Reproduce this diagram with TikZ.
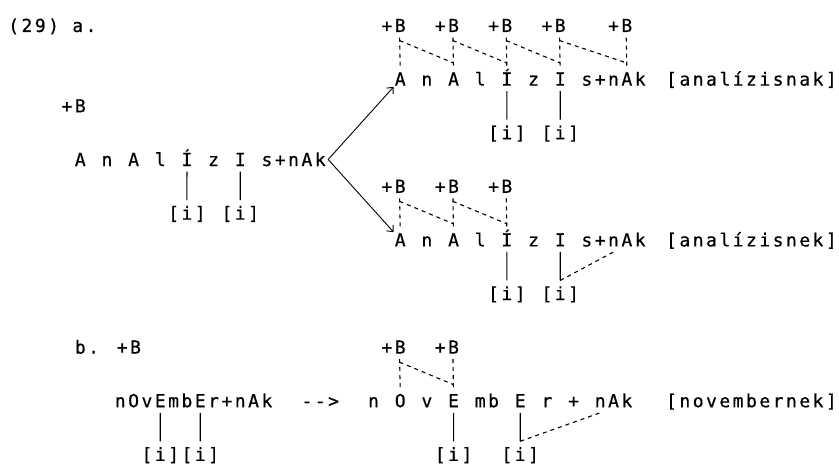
\documentclass[tikz,border=0pt]{standalone}
\usepackage{fontspec}
\usetikzlibrary{arrows.meta}
\newfontfamily\typewr[LetterSpace=13.8,FakeBold=0.6]{DejaVu Sans Mono}

\begin{document}
\begin{tikzpicture}[x=13.33pt,y=-26.8pt,>={Straight Barb[length=5pt,width=9pt]},line width=1.1pt,
	seg/.style={font=\typewr\fontsize{18}{20}\selectfont,inner sep=0pt,
		text height=13pt,text depth=0pt,anchor=west},
	assoc/.style={dash pattern=on 4pt off 4pt,shorten <=5pt,shorten >=5pt},
	spread/.style={dash pattern=on 4pt off 4pt},
	link/.style={shorten <=5pt,shorten >=6pt}]

	\useasboundingbox (-5.576,-0.951) rectangle (57.36,16.436);

	% (29) a.
	\node[seg] (ex) at (-5,0) {(29) a.};

	% left form
	\node[seg] (sb) at (-1,3) {+B};
	\node[seg] (sa1) at (0,5) {A};
	\node[seg] (sn) at (2,5) {n};
	\node[seg] (sa2) at (4,5) {A};
	\node[seg] (sl) at (6,5) {l};
	\node[seg] (si1) at (8,5) {Í};
	\node[seg] (sz) at (10,5) {z};
	\node[seg] (si2) at (12,5) {I};
	\node[seg] (ssfx) at (14,5) {s+nAk};
	\node[seg] (sj1) at (7,7) {[i]};
	\node[seg] (sj2) at (11,7) {[i]};

	% upper output
	\node[seg] (ub1) at (23,0) {+B};
	\node[seg] (ub2) at (27,0) {+B};
	\node[seg] (ub3) at (31,0) {+B};
	\node[seg] (ub4) at (35,0) {+B};
	\node[seg] (ub5) at (40,0) {+B};
	\node[seg] (ua1) at (24,2) {A};
	\node[seg] (un1) at (26,2) {n};
	\node[seg] (ua2) at (28,2) {A};
	\node[seg] (ul) at (30,2) {l};
	\node[seg] (ui1) at (32,2) {Í};
	\node[seg] (uz) at (34,2) {z};
	\node[seg] (ui2) at (36,2) {I};
	\node[seg] (us) at (38,2) {s+n};
	\node[seg] (ua3) at (41,2) {A};
	\node[seg] (uk) at (42,2) {k};
	\node[seg] (ugl) at (44.35,2) {[analízisnak]};
	\node[seg] (uj1) at (31,4) {[i]};
	\node[seg] (uj2) at (35,4) {[i]};

	% lower output
	\node[seg] (lb1) at (23,6) {+B};
	\node[seg] (lb2) at (27,6) {+B};
	\node[seg] (lb3) at (31,6) {+B};
	\node[seg] (la1) at (24,8) {A};
	\node[seg] (ln1) at (26,8) {n};
	\node[seg] (la2) at (28,8) {A};
	\node[seg] (ll) at (30,8) {l};
	\node[seg] (li1) at (32,8) {Í};
	\node[seg] (lz) at (34,8) {z};
	\node[seg] (li2) at (36,8) {I};
	\node[seg] (ls) at (38,8) {s+};
	\node[seg] (ln2) at (40,8) {n};
	\node[seg] (lak) at (41,8) {Ak};
	\node[seg] (lgl) at (44.35,8) {[analízisnek]};
	\node[seg] (lj1) at (31,10) {[i]};
	\node[seg] (lj2) at (35,10) {[i]};

	% b.
	\node[seg] (bhd) at (0,12) {b. +B};
	\node[seg] (bl1) at (3,14) {nOv};
	\node[seg] (be1) at (6,14) {E};
	\node[seg] (bl2) at (7,14) {mb};
	\node[seg] (be2) at (9,14) {E};
	\node[seg] (bl3) at (10,14) {r+nAk};
	\node[seg] (bj1) at (5,16) {[i]};
	\node[seg] (bj2) at (8,16) {[i]};
	\node[seg] (barr) at (17,14) {-->};
	\node[seg] (rb1) at (23,12) {+B};
	\node[seg] (rb2) at (27,12) {+B};
	\node[seg] (rn1) at (22,14) {n};
	\node[seg] (ro) at (24,14) {O};
	\node[seg] (rv) at (26,14) {v};
	\node[seg] (re1) at (28,14) {E};
	\node[seg] (rmb) at (30,14) {mb};
	\node[seg] (re2) at (33,14) {E};
	\node[seg] (rr) at (35,14) {r};
	\node[seg] (rp) at (37,14) {+};
	\node[seg] (rn2) at (39,14) {n};
	\node[seg] (rak) at (40,14) {Ak};
	\node[seg] (rgl) at (44.35,14) {[novembernek]};
	\node[seg] (rj1) at (27,16) {[i]};
	\node[seg] (rj2) at (32,16) {[i]};

	% arrows
	\coordinate (fork) at ([xshift=2pt]ssfx.east);
	\draw[->,line width=0.9pt,shorten >=1pt] (fork) -- (ua1.south west);
	\draw[->,line width=0.9pt,shorten >=1pt] (fork) -- (la1.north west);

	% +B links
	\path[assoc]
	([xshift=-6.67pt]ub1.south east) edge (ua1.north)
	([xshift=-6.67pt]ub2.south east) edge (ua2.north)
	([xshift=-6.67pt]ub3.south east) edge (ui1.north)
	([xshift=-6.67pt]ub4.south east) edge (ui2.north)
	([xshift=-6.67pt]ub5.south east) edge (ua3.north)
	([xshift=-6.67pt]lb1.south east) edge (la1.north)
	([xshift=-6.67pt]lb2.south east) edge (la2.north)
	([xshift=-6.67pt]lb3.south east) edge (li1.north)
	([xshift=-6.67pt]rb1.south east) edge (ro.north)
	([xshift=-6.67pt]rb2.south east) edge (re1.north);

	% spreading
	\path[spread]
	([xshift=-6.67pt,yshift=-8pt]ub1.south east) edge ([yshift=9pt]ua2.north)
	([xshift=-6.67pt,yshift=-8pt]ub2.south east) edge ([yshift=9pt]ui1.north)
	([xshift=-6.67pt,yshift=-8pt]ub3.south east) edge ([yshift=9pt]ui2.north)
	([xshift=-6.67pt,yshift=-8pt]ub4.south east) edge ([yshift=9pt]ua3.north)
	([xshift=-6.67pt,yshift=-8pt]lb1.south east) edge ([yshift=9pt]la2.north)
	([xshift=-6.67pt,yshift=-8pt]lb2.south east) edge ([yshift=9pt]li1.north)
	([xshift=-6.67pt,yshift=-8pt]rb1.south east) edge ([yshift=9pt]re1.north);

	% [i] links
	\path[link]
	(si1.south) edge (sj1.north)
	(si2.south) edge (sj2.north)
	(ui1.south) edge (uj1.north)
	(ui2.south) edge (uj2.north)
	(li1.south) edge (lj1.north)
	(be1.south) edge (bj1.north)
	(be2.south) edge (bj2.north)
	(re1.south) edge (rj1.north);

	\coordinate (lknee) at ([yshift=6pt]lj2.north);
	\coordinate (rknee) at ([yshift=6pt]rj2.north);
	\draw[shorten <=5pt] (li2.south) -- (lknee);
	\draw[shorten <=5pt] (re2.south) -- (rknee);
	\draw[spread] (lknee) -- ([yshift=-5pt]ln2.south);
	\draw[spread] (rknee) -- ([yshift=-5pt]rn2.south);
\end{tikzpicture}
\end{document}
